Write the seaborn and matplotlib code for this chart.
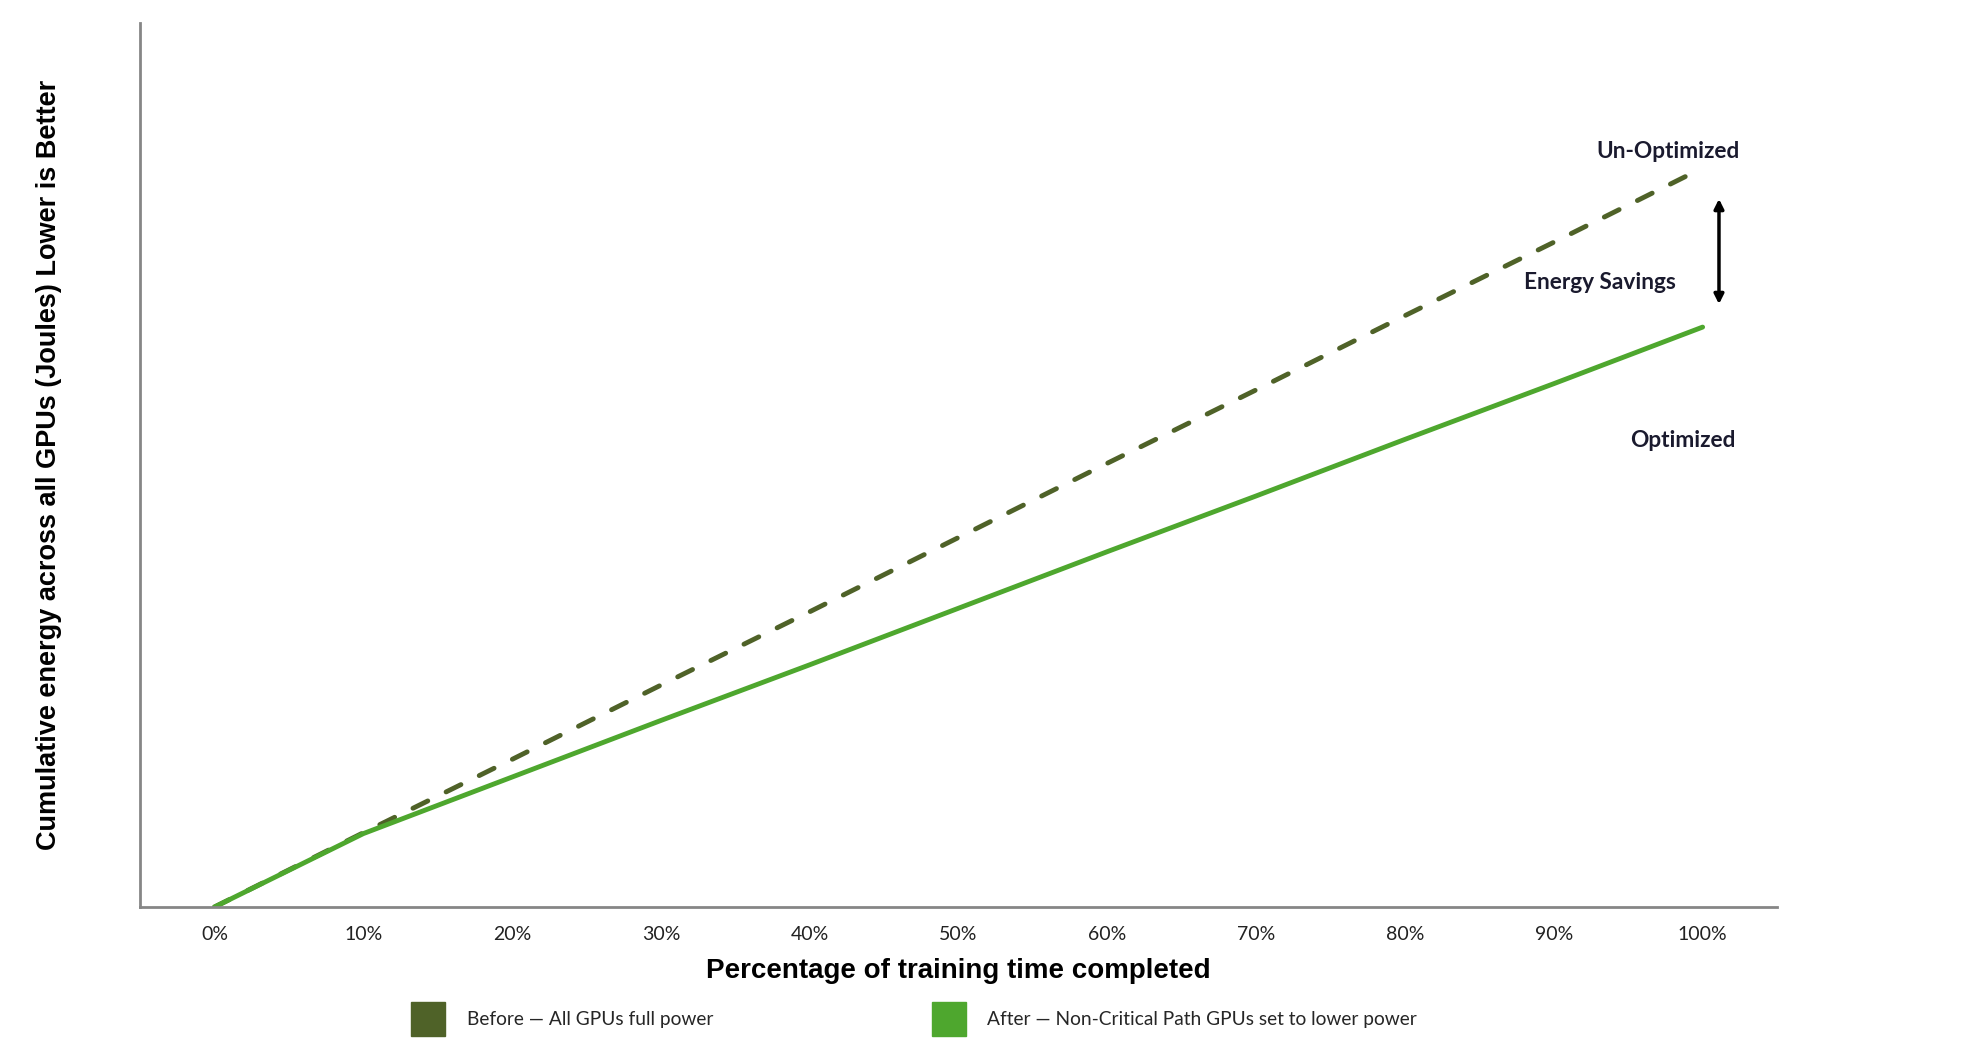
import pandas as pd
import seaborn as sns
import matplotlib.pyplot as plt
from matplotlib.lines import Line2D

# Dados (energia acumulada, unidades arbitrarias)
progresso = [0, 10, 20, 30, 40, 50, 60, 70, 80, 90, 100]
rotulos_x = ['0%', '10%', '20%', '30%', '40%', '50%', '60%', '70%', '80%', '90%', '100%']
antes = [0, 8.4, 16.7, 25.1, 33.4, 41.8, 50.2, 58.5, 66.9, 75.2, 83.6]
depois = [0, 8.3, 14.7, 21.1, 27.4, 33.8, 40.2, 46.5, 52.9, 59.2, 65.6]
series = ['Before \u2014 All GPUs full power', 'After \u2014 Non-Critical Path GPUs set to lower power']

cor_antes = '#4F6228'
cor_depois = '#4EA72E'

dados = pd.DataFrame({
    'x': progresso * 2,
    'energia': antes + depois,
    'serie': [series[0]] * len(antes) + [series[1]] * len(depois),
})

sns.set_style('white')
fig = plt.figure(figsize=(19.76, 10.46), dpi=100)
ax = fig.add_axes([0.0709, 0.1329, 0.8284, 0.8451])

sns.lineplot(data=dados, x='x', y='energia', hue='serie', style='serie',
             palette={series[0]: cor_antes, series[1]: cor_depois},
             dashes={series[0]: (3.4, 4.2), series[1]: ''},
             linewidth=3.5, legend=False, ax=ax)
for ln in ax.lines:
    ln.set_dash_capstyle('round')

ax.set_xlim(-5, 105)
ax.set_ylim(0, 100)
ax.set_xticks(progresso)
ax.set_xticklabels(rotulos_x, fontfamily='Lato', fontsize=14, color='#222222')
ax.set_yticks([])
ax.tick_params(axis='x', length=0, pad=14)

for lado in ['top', 'right']:
    ax.spines[lado].set_visible(False)
for lado in ['left', 'bottom']:
    ax.spines[lado].set_color('#868686')
    ax.spines[lado].set_linewidth(2)

ax.set_xlabel('Percentage of training time completed', fontfamily='Liberation Sans',
              fontweight='bold', fontsize=20, color='black')
ax.xaxis.set_label_coords(0.5, -0.058)
ax.set_ylabel('Cumulative energy across all GPUs (Joules) Lower is Better',
              fontfamily=['Liberation Sans Narrow', 'Liberation Sans'],
              fontweight='bold', fontsize=19.5, color='black')
ax.yaxis.set_label_coords(-0.048, 0.5)

# anotacoes
estilo = dict(fontfamily='Lato', fontweight='bold', fontsize=16.3, color='#1a1a2e',
              ha='center', va='center')
ax.text(97.7, 85.5, 'Un-Optimized', **estilo)
ax.text(93.1, 70.6, 'Energy Savings', **estilo)
ax.text(98.7, 52.8, 'Optimized', **estilo)
ax.annotate('', xy=(101.1, 80.1), xytext=(101.1, 68.2),
            arrowprops=dict(arrowstyle='<|-|>', color='black', lw=2.5,
                            mutation_scale=14, shrinkA=0, shrinkB=0))

# legenda
alcas = [Line2D([], [], marker='s', linestyle='none', markersize=24,
                markerfacecolor=cor_antes, markeredgecolor=cor_antes),
         Line2D([], [], marker='s', linestyle='none', markersize=24,
                markerfacecolor=cor_depois, markeredgecolor=cor_depois)]
fig.legend(alcas, series, loc='center', bbox_to_anchor=(0.462, 0.025), ncol=2,
           frameon=False, columnspacing=11.3, handletextpad=1.0,
           prop={'family': 'Lato', 'size': 13.8})

fig.savefig('out.png', dpi=100)
